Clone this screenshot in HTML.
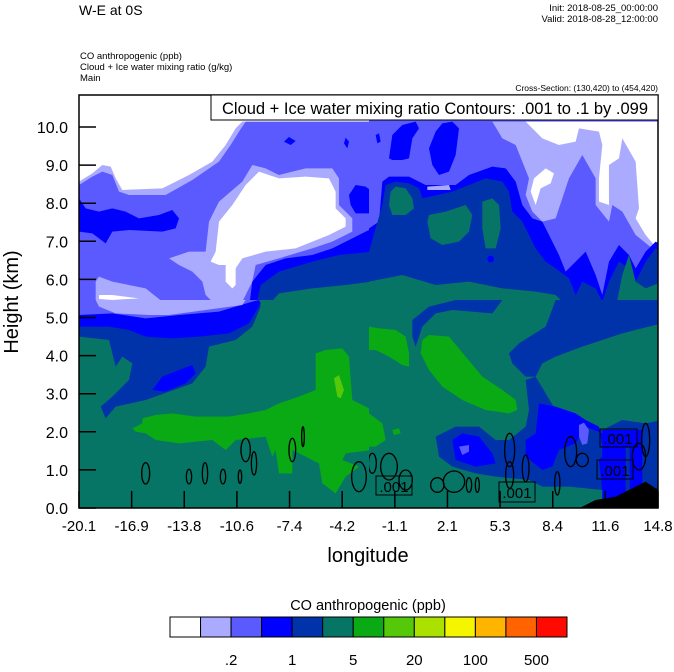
<!DOCTYPE html>
<html><head><meta charset="utf-8">
<style>
html,body{margin:0;padding:0;background:#fff;}
body{width:674px;height:667px;overflow:hidden;font-family:"Liberation Sans",sans-serif;}
svg text{font-family:"Liberation Sans",sans-serif;}
</style></head>
<body>
<svg id="chart" width="674" height="667" viewBox="0 0 674 667" xmlns="http://www.w3.org/2000/svg">
<text x="79" y="15" font-size="14">W-E at 0S</text>
<text x="658" y="11" font-size="9.5" text-anchor="end">Init: 2018-08-25_00:00:00</text>
<text x="658" y="22" font-size="9.5" text-anchor="end">Valid: 2018-08-28_12:00:00</text>
<text x="80" y="59" font-size="9.5">CO anthropogenic   (ppb)</text>
<text x="80" y="70" font-size="9.5">Cloud + Ice water mixing ratio   (g/kg)</text>
<text x="80" y="81" font-size="9.5">Main</text>
<text x="658" y="91" font-size="8.5" text-anchor="end">Cross-Section: (130,420) to (454,420)</text>

<defs>
<clipPath id="qa"><rect x="79" y="95" width="290" height="206"/></clipPath>
<clipPath id="qb"><rect x="369" y="95" width="289" height="206"/></clipPath>
<clipPath id="qc"><rect x="79" y="300" width="290" height="208"/></clipPath>
<clipPath id="qd"><rect x="369" y="300" width="289" height="208"/></clipPath>
</defs>
<g>
<!-- Quadrant A -->
<g clip-path="url(#qa)"><g transform="translate(79,95) scale(0.3333)">
<rect x="0" y="0" width="880" height="640" fill="#fff"/>
<polygon fill="#aaaaff" points="0,260 40,235 70,210 95,215 110,250 130,285 250,280 330,240 400,200 440,150 470,100 490,80 880,80 880,640 0,640"/>
<polygon fill="#5a5aff" points="0,270 40,245 70,230 100,240 120,290 150,300 260,300 340,255 420,200 455,150 480,110 500,80 880,80 880,640 0,640"/>
<polygon fill="#aaaaff" points="270,490 330,470 380,470 390,380 420,320 490,260 520,210 560,220 600,240 640,230 680,220 760,220 780,250 780,330 820,370 820,410 760,440 700,460 600,490 530,510 520,560 500,600 480,640 420,640 380,600 370,560 340,530 300,510"/>
<polygon fill="#ffffff" points="395,500 410,470 420,380 460,330 500,270 540,230 600,250 680,245 750,250 770,290 770,340 800,370 800,395 750,420 650,460 560,470 490,490 470,520 470,570 460,580 440,560 440,510 420,510"/>
<polygon fill="#aaaaff" points="50,560 60,545 100,560 200,580 250,620 250,640 50,640"/>
<polygon fill="#ffffff" points="60,600 100,600 180,610 100,615 60,612"/>
<polygon fill="#0000ff" points="0,310 20,340 60,350 100,340 140,350 180,370 240,360 280,345 300,370 290,400 250,410 150,405 100,410 80,445 60,430 40,415 0,410"/>
<polygon fill="#0000ff" points="810,300 830,270 860,275 880,290 880,355 830,355 815,330"/>
<polygon fill="#0000ff" points="615,140 630,126 650,138 635,150"/>
<polygon fill="#0000ff" points="800,128 810,140 805,160 795,145"/>
<polygon fill="#0000ff" points="510,640 520,560 560,510 620,490 700,480 760,460 820,430 880,400 880,640"/>
<polygon fill="#0033aa" points="530,640 545,570 600,530 700,500 780,480 880,470 880,640"/>
<polygon fill="#077565" points="560,640 600,595 700,580 800,570 880,560 880,640"/>
</g></g>
<!-- Quadrant B -->
<g clip-path="url(#qb)"><g transform="translate(369,95) scale(0.3333)">
<rect x="0" y="0" width="880" height="640" fill="#5a5aff"/>
<polygon fill="#aaaaff" points="370,80 400,130 440,150 460,200 480,250 470,300 490,350 520,380 560,370 600,250 640,180 680,250 680,330 720,380 730,330 760,350 800,420 850,460 880,470 880,80"/>
<polygon fill="#ffffff" points="470,80 500,110 520,130 570,150 620,140 630,100 690,110 700,150 690,250 690,320 720,330 720,210 750,190 760,130 800,200 810,340 800,370 830,420 855,450 880,430 880,80"/>
<polygon fill="#ffffff" points="485,290 495,250 530,220 555,235 545,265 515,280 500,330"/>
<polygon fill="#0000ff" points="60,190 70,120 100,90 140,80 150,100 130,130 120,190 100,195 70,195"/>
<polygon fill="#0000ff" points="180,160 200,110 220,85 250,80 270,100 260,180 240,230 210,240 190,210"/>
<polygon fill="#0000ff" points="20,120 30,115 35,140 25,145"/>
<polygon fill="#0000ff" points="0,400 30,380 40,260 60,245 120,245 170,270 230,270 260,270 300,240 370,215 410,220 440,260 460,330 490,370 520,380 550,440 570,480 590,530 620,500 650,470 680,540 700,600 720,500 750,450 780,480 800,520 830,470 860,440 880,450 880,640 0,640"/>
<polygon fill="#0033aa" points="0,470 40,330 50,270 80,260 120,265 150,280 160,310 250,290 300,270 350,250 400,260 420,290 430,350 460,380 480,420 500,460 530,500 560,520 600,550 620,600 640,560 680,580 700,620 720,560 750,500 780,520 800,560 830,500 860,460 880,470 880,640 0,640"/>
<polygon fill="#aaaaff" points="175,275 240,270 245,285 175,285"/>
<polygon fill="#077565" points="65,290 80,275 110,280 130,310 135,340 110,360 70,360 60,330"/>
<polygon fill="#077565" points="175,380 180,360 230,350 290,330 310,360 300,410 270,440 220,450 185,430"/>
<polygon fill="#077565" points="340,320 370,310 390,330 395,400 380,460 350,460 340,400"/>
<polygon fill="#077565" points="0,560 100,540 200,570 300,560 400,580 500,590 560,600 600,640 0,640"/>
<polygon fill="#077565" points="760,540 780,480 800,560 830,580 880,560 880,640 740,640"/>
<ellipse cx="365" cy="492" rx="10" ry="10" fill="#0000ff"/>
</g></g>
<!-- Quadrant C -->
<g clip-path="url(#qc)"><g transform="translate(79,300) scale(0.3333)">
<rect x="0" y="0" width="880" height="640" fill="#077565"/>
<polygon fill="#0033aa" points="0,40 540,0 545,20 520,80 470,120 390,140 380,200 340,250 200,300 110,320 80,355 65,320 100,290 150,240 160,190 130,170 110,200 90,120 0,110"/>
<polygon fill="#0000ff" points="0,45 100,40 200,55 300,45 420,35 520,5 540,0 545,10 510,70 450,100 360,110 280,115 200,110 150,90 90,80 0,80"/>
<polygon fill="#5a5aff" points="0,0 540,0 520,5 420,35 300,45 200,55 100,40 0,45"/>
<polygon fill="#aaaaff" points="50,0 500,0 490,15 270,45 210,45 110,40 60,20"/>
<polygon fill="#0000ff" points="220,270 250,230 300,210 340,195 350,220 320,250 260,275"/>
<polygon fill="#0aaa14" points="160,385 190,370 190,355 230,345 280,340 350,350 450,350 510,340 560,330 600,310 660,290 710,270 710,160 740,150 790,145 810,170 820,300 880,330 880,450 800,460 790,480 840,500 800,530 770,580 730,550 720,490 680,470 640,450 640,520 600,520 590,450 580,470 560,410 470,420 440,450 400,420 300,430 230,420 200,400 170,395"/>
<polygon fill="#55c80a" points="765,235 780,225 795,270 785,295 775,290"/>
<g fill="none" stroke="#000" stroke-width="4">
<ellipse cx="200" cy="520" rx="12" ry="32"/><ellipse cx="330" cy="530" rx="8" ry="22"/><ellipse cx="378" cy="520" rx="8" ry="32"/>
<ellipse cx="432" cy="530" rx="8" ry="22"/><ellipse cx="483" cy="530" rx="5" ry="20"/><ellipse cx="500" cy="450" rx="14" ry="35"/>
<ellipse cx="525" cy="490" rx="8" ry="35"/><ellipse cx="640" cy="450" rx="10" ry="35"/><ellipse cx="672" cy="410" rx="4" ry="30"/>
<ellipse cx="840" cy="530" rx="22" ry="45"/>
</g>
</g></g>
<!-- Quadrant D -->
<g clip-path="url(#qd)"><g transform="translate(369,300) scale(0.3333)">
<rect x="0" y="0" width="880" height="640" fill="#077565"/>
<polygon fill="#0033aa" points="130,110 130,60 180,20 260,0 400,0 370,40 250,30 200,40 160,80 140,140"/>
<polygon fill="#0033aa" points="420,160 450,130 530,80 560,0 880,0 880,70 760,100 640,140 560,170 520,190 500,230 470,230 430,190"/>
<polygon fill="#0033aa" points="200,410 260,380 330,380 380,420 420,420 470,380 480,330 470,240 500,230 530,280 560,330 600,350 680,380 700,390 760,360 830,370 880,360 880,600 780,600 780,560 700,570 600,560 520,560 480,540 380,530 320,520 250,500 210,470"/>
<polygon fill="#0000ff" points="250,420 280,400 330,410 370,460 380,490 320,500 260,480"/>
<polygon fill="#0000ff" points="470,420 500,400 510,310 560,320 620,340 650,360 690,380 700,440 700,470 690,480 700,570 780,570 780,470 800,460 820,480 820,400 700,400 650,380 620,430 570,450 550,500 520,510 470,470"/>
<rect x="700" y="390" width="120" height="210" fill="#0000ff"/>
<rect x="770" y="440" width="12" height="160" fill="#0033aa"/>
<polygon fill="#5a5aff" points="630,375 645,368 660,390 655,430 640,435 630,410"/>
<polygon fill="#5a5aff" points="270,440 300,435 300,455 280,465"/>
<polygon fill="#0aaa14" points="0,80 30,85 80,90 110,110 120,160 120,200 100,195 60,170 20,150 0,150"/>
<polygon fill="#0aaa14" points="160,120 180,105 240,110 290,170 340,230 400,270 440,300 445,330 420,340 350,330 280,300 220,260 180,210 155,160"/>
<polygon fill="#0aaa14" points="0,340 40,370 50,420 20,440 0,440"/>
<polygon fill="#0aaa14" points="70,390 90,385 95,400 75,405"/>
<polygon fill="#000" points="600,640 680,600 740,590 800,560 830,545 860,565 880,570 880,640"/>
<g fill="none" stroke="#000" stroke-width="4">
<ellipse cx="10" cy="490" rx="12" ry="30"/><ellipse cx="60" cy="500" rx="25" ry="40"/><ellipse cx="110" cy="540" rx="20" ry="30"/>
<ellipse cx="205" cy="555" rx="20" ry="22"/><ellipse cx="255" cy="545" rx="32" ry="32"/><ellipse cx="300" cy="555" rx="8" ry="22"/>
<ellipse cx="325" cy="555" rx="6" ry="22"/><ellipse cx="422" cy="450" rx="15" ry="50"/><ellipse cx="422" cy="525" rx="12" ry="40"/>
<ellipse cx="470" cy="505" rx="10" ry="40"/><ellipse cx="565" cy="550" rx="8" ry="35"/><ellipse cx="605" cy="455" rx="18" ry="45"/>
<ellipse cx="640" cy="480" rx="18" ry="20"/><ellipse cx="830" cy="420" rx="12" ry="50"/><ellipse cx="810" cy="470" rx="20" ry="40"/>
</g>
</g></g>
</g>
<g font-size="15" fill="#000">
<rect x="376" y="476" width="36" height="19" fill="none" stroke="#000"/><text x="394" y="492" text-anchor="middle">.001</text>
<rect x="499" y="482" width="36" height="20" fill="none" stroke="#000"/><text x="517" y="498" text-anchor="middle">.001</text>
<rect x="600" y="429" width="37" height="18" fill="none" stroke="#000"/><text x="618" y="444" text-anchor="middle">.001</text>
<rect x="597" y="460" width="36" height="19" fill="none" stroke="#000"/><text x="615" y="476" text-anchor="middle">.001</text>
</g>
<rect x="79" y="95" width="579" height="413" fill="none" stroke="#000" stroke-width="1.5"/>
<g>
<rect x="211" y="95" width="447" height="25" fill="#fff" stroke="#000" stroke-width="1"/>
<text x="435" y="114" font-size="16.5" text-anchor="middle">Cloud + Ice water mixing ratio Contours: .001 to .1 by .099</text>
</g>
<g id="axes"></g>
<text transform="translate(18,302) rotate(-90)" font-size="20" text-anchor="middle">Height (km)</text>
<text x="368" y="562" font-size="20" text-anchor="middle">longitude</text>
<text x="368" y="610" font-size="14.5" text-anchor="middle">CO anthropogenic  (ppb)</text>
<g id="cbar"></g>
</svg>
<script>
const yTicks = ["0.0","1.0","2.0","3.0","4.0","5.0","6.0","7.0","8.0","9.0","10.0"];
const yValues = [0,1,2,3,4,5,6,7,8,9,10];
const xTicks = ["-20.1","-16.9","-13.8","-10.6","-7.4","-4.2","-1.1","2.1","5.3","8.4","11.6","14.8"];
const cbarColors = ["#ffffff","#aaaaff","#5a5aff","#0000ff","#0033aa","#077565","#0aaa14","#55c80a","#aae100","#f5f500","#ffb400","#ff6400","#ff0a00"];
const cbarLabels = [".2","1","5","20","100","500"];
const cbarLabelIdx = [2,4,6,8,10,12];
const NS="http://www.w3.org/2000/svg";
const yScale = v => 508 - v*38.1;
const xScale = i => 79 + i*(579/(xTicks.length-1));
const axes=document.getElementById('axes');
function mk(tag,attrs,parent){const e=document.createElementNS(NS,tag);for(const k in attrs)e.setAttribute(k,attrs[k]);parent.appendChild(e);return e;}
yValues.forEach((v,i)=>{
  const y=yScale(v);
  const t=mk('line',{x1:79,x2:96,y1:y,y2:y,stroke:'#000','stroke-width':1.5},axes);
  
  
  const l=mk('text',{x:68,y:y+6,'font-size':16,'text-anchor':'end'},axes);
  
  
  l.textContent=yTicks[i];
});
xTicks.forEach((s,i)=>{
  const x=xScale(i);
  const t=mk('line',{x1:x,x2:x,y1:508,y2:491,stroke:'#000','stroke-width':1.5},axes);
  
  
  const l=mk('text',{x:x,y:531,'font-size':15,'text-anchor':'middle'},axes);
  
  
  l.textContent=s;
});
const cb=document.getElementById('cbar');
const bw=397/cbarColors.length;
cbarColors.forEach((c,i)=>{
  const r=mk('rect',{x:170+i*bw,y:617,width:bw,height:20,fill:c,stroke:'#000','stroke-width':1},cb);
  
  
});
cbarLabels.forEach((s,i)=>{
  const l=mk('text',{x:170+cbarLabelIdx[i]*bw,y:665,'font-size':15,'text-anchor':'middle'},cb);
  
  
  l.textContent=s;
});
</script>
</body></html>
